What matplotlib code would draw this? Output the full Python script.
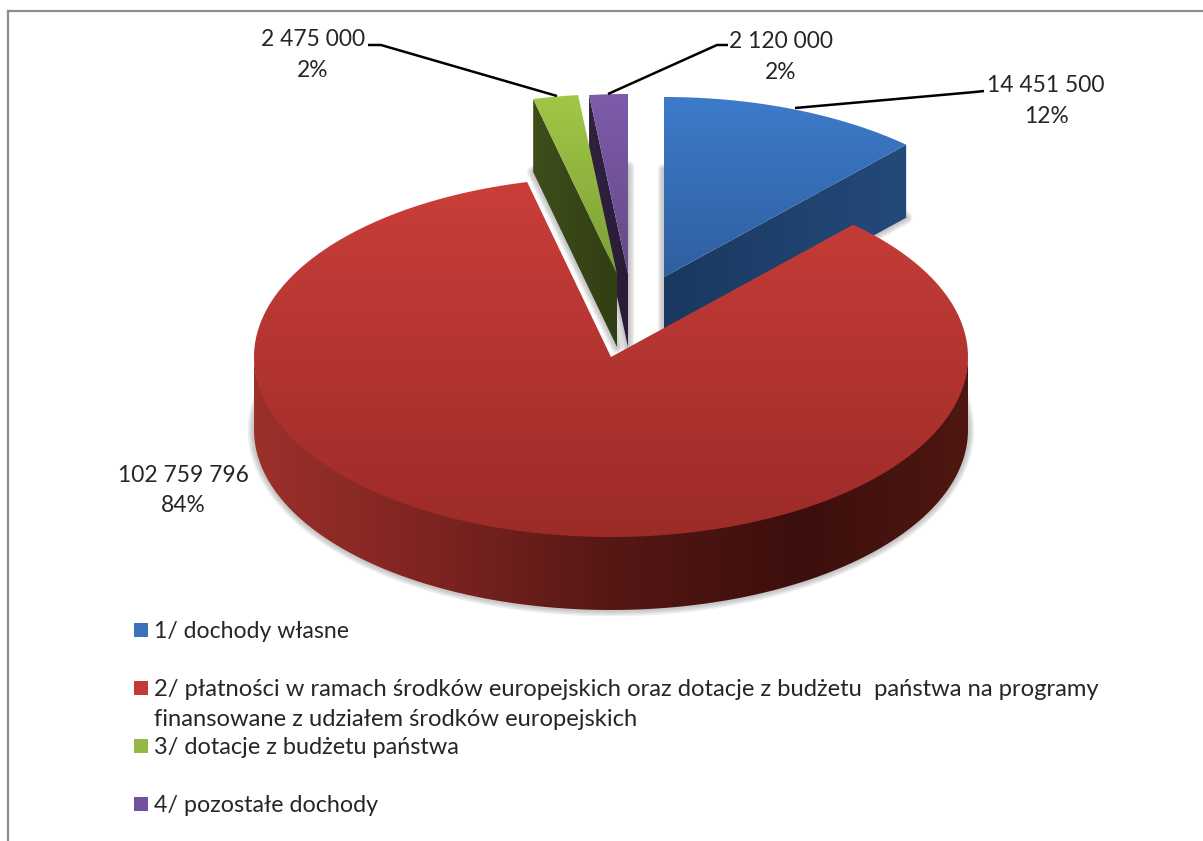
import itertools
import numpy as np
import matplotlib
matplotlib.use('Agg')
import matplotlib.pyplot as plt
from matplotlib.colors import LinearSegmentedColormap
from matplotlib.patches import Polygon, Rectangle

# data
categories = [
    ['1/ dochody własne'],
    ['2/ płatności w ramach środków europejskich oraz dotacje z budżetu  państwa na programy',
     'finansowane z udziałem środków europejskich'],
    ['3/ dotacje z budżetu państwa'],
    ['4/ pozostałe dochody'],
]
values = [14451500, 102759796, 2475000, 2120000]

# colours: top face start/end, side face start/end, legend
top_colors = [('#3d7bca', '#2f5f9f'), ('#ca3e39', '#9c2b28'), ('#a0c846', '#7d9f38'), ('#7d5caa', '#654a87')]
side_colors = [('#1a3860', '#244a7a'), None, ('#3d4e1b', '#323e13'), ('#30213f', '#2a1c38')]
legend_colors = ['#3a72bb', '#c33b37', '#93b944', '#7350a0']
red_side_x = [254, 450, 620, 800, 968]
red_side_colors = ['#9c302b', '#7a2320', '#541714', '#3c0f0c', '#4e1712']

# layout, in pixels of the picture
W, H = 1203, 841
RX, RY, DEPTH = 357, 180, 73
centers = [(664, 277), (611, 357), (617, 274), (628, 274)]
label_pos = [(1046, 85, 116), (183, 475, 506), (313, 39, 70), (781, 41, 72)]
leaders = [
    [(795, 108), (975, 92), (984, 91)],
    None,
    [(557, 96), (381, 45), (368, 45)],
    [(608, 94), (717, 45), (728, 45)],
]
legend_y = [[632], [690, 720], [748], [806]]
legend_size = [16.6, 17.15, 16.9, 16.75]
TEXT = '#262626'
FONT = 'Lato'
z = itertools.count(2)


def rim(center, theta):
    t = np.radians(theta)
    return center[0] + RX * np.sin(t), center[1] - RY * np.cos(t)


def gradient(ax, pts, colors, vertical=True, stops=None):
    pts = np.asarray(pts)
    x0, y0 = pts.min(axis=0)
    x1, y1 = pts.max(axis=0)
    order = next(z)
    if stops is None:
        cmap = LinearSegmentedColormap.from_list('g', list(colors))
    else:
        pos = (np.array(stops) - stops[0]) / (stops[-1] - stops[0])
        cmap = LinearSegmentedColormap.from_list('g', list(zip(pos, colors)))
    ramp = np.linspace(0, 1, 256)
    ramp = ramp[:, None] if vertical else ramp[None, :]
    im = ax.imshow(ramp, extent=(x0, x1, y1, y0), cmap=cmap, aspect='auto', zorder=order)
    patch = Polygon(pts, closed=True, fc='none', ec='none', transform=ax.transData)
    ax.add_patch(patch)
    im.set_clip_path(patch)


def halo(ax, pts):
    # soft shadow under the bottom outline of a slice
    order = next(z)
    for lw in (9, 7, 5, 3):
        ax.add_patch(Polygon(pts, closed=True, fc='none', ec='#555555', lw=lw, alpha=0.09,
                             joinstyle='round', zorder=order))


fig = plt.figure(figsize=(W / 100, H / 100), dpi=100)
ax = fig.add_axes([0, 0, 1, 1])

# angles clockwise from the top
total = sum(values)
edges = np.concatenate([[0], np.cumsum(values) / total * 360])
spans = list(zip(edges[:-1], edges[1:]))

# blue, purple, green first, the big slice lies in front of them
for i in [0, 3, 2, 1]:
    c = centers[i]
    a0, a1 = spans[i]
    thetas = np.linspace(a0, a1, 200)
    arc = [rim(c, t) for t in thetas]
    top = [c] + arc
    halo(ax, [(x, y + DEPTH) for x, y in top])

    if i == 1:
        # upper edge goes 2 px under the top face so no light seam shows
        band = [rim(c, t) for t in np.linspace(90, 270, 300)]
        upper = [(x, y - 2) for x, y in band]
        gradient(ax, upper + [(x, y + DEPTH) for x, y in band[::-1]], red_side_colors,
                 vertical=False, stops=red_side_x)
    else:
        # the cut face that looks at the viewer
        p = arc[-1] if i == 0 else arc[0]
        face = [c, p, (p[0], p[1] + DEPTH), (c[0], c[1] + DEPTH)]
        gradient(ax, face, side_colors[i], vertical=False)

    gradient(ax, top, top_colors[i])

# data labels and leader lines
for v, pos, line in zip(values, label_pos, leaders):
    ax.text(pos[0], pos[1], f'{v:,}'.replace(',', ' '), ha='center', va='center',
            fontsize=16.4, color=TEXT, family=FONT, zorder=50)
    ax.text(pos[0], pos[2], f'{round(v / total * 100)}%', ha='center', va='center',
            fontsize=16.4, color=TEXT, family=FONT, zorder=50)
    if line:
        ax.plot(*zip(*line), color='black', lw=1.8, zorder=49, solid_capstyle='butt')

# legend
for lines, ys, col, size in zip(categories, legend_y, legend_colors, legend_size):
    ax.add_patch(Rectangle((134, ys[0] - 9), 14, 14, fc=col, ec='none', zorder=50))
    for txt, y in zip(lines, ys):
        ax.text(154, y, txt, ha='left', va='center', fontsize=size, color=TEXT, family=FONT, zorder=50)

# chart frame, only top and left are in the picture
ax.plot([8, W], [11, 11], color='#8c8c8c', lw=1.6, zorder=60)
ax.plot([8, 8], [11, H], color='#8c8c8c', lw=1.6, zorder=60)

ax.set_xlim(0, W)
ax.set_ylim(H, 0)
ax.axis('off')
fig.savefig('out.png', dpi=100, facecolor='white')
plt.close(fig)
